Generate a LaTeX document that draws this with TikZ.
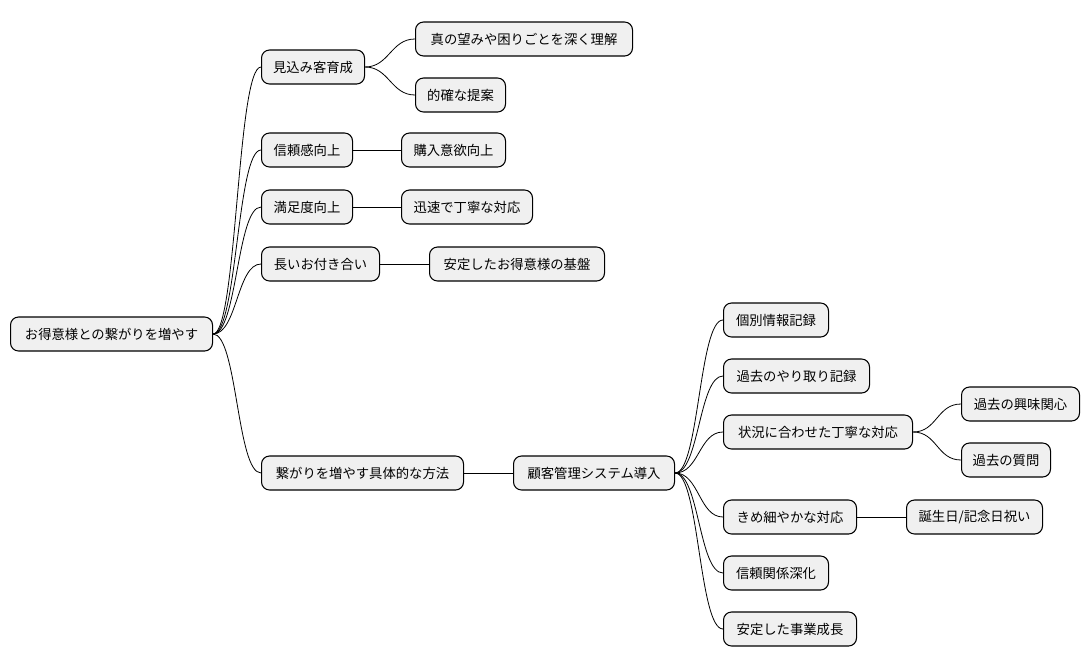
\documentclass[tikz,border=0pt]{standalone}
\usepackage{fontspec}
\setmainfont{Noto Sans CJK JP}
\begin{document}
\begin{tikzpicture}[x=0.75pt,y=-0.75pt,
  box/.style={draw=black,fill=black!6,rounded corners=6pt,line width=0.8pt,minimum height=25.5pt,inner sep=0pt,font=\fontsize{10pt}{12pt}\selectfont,anchor=west},
  link/.style={draw=black,line width=0.6pt}]
\useasboundingbox (0,0) rectangle (1090,668);
\newcommand\bx[5]{\node[box,minimum width=#4*0.75pt] (#1) at (#2,#3) {#5};}
\bx{r}{10}{334}{202}{お得意様との繋がりを増やす}
\bx{a}{261}{67}{103}{見込み客育成}
\bx{a1}{415}{39}{217}{真の望みや困りごとを深く理解}
\bx{a2}{415}{95}{90}{的確な提案}
\bx{b}{261}{150}{91}{信頼感向上}
\bx{b1}{401}{150}{104}{購入意欲向上}
\bx{c}{261}{207}{91}{満足度向上}
\bx{c1}{401}{207}{131}{迅速で丁寧な対応}
\bx{d}{261}{264}{118}{長いお付き合い}
\bx{d1}{429}{264}{175}{安定したお得意様の基盤}
\bx{e}{261}{473}{202}{繋がりを増やす具体的な方法}
\bx{f}{513}{473}{161}{顧客管理システム導入}
\bx{g1}{723}{320}{105}{個別情報記録}
\bx{g2}{723}{376}{146}{過去のやり取り記録}
\bx{g3}{723}{432}{189}{状況に合わせた丁寧な対応}
\bx{h1}{961}{404}{118}{過去の興味関心}
\bx{h2}{961}{460}{89}{過去の質問}
\bx{g4}{723}{517}{133}{きめ細やかな対応}
\bx{i1}{906}{517}{136}{誕生日/記念日祝い}
\bx{g5}{723}{573}{105}{信頼関係深化}
\bx{g6}{723}{629}{133}{安定した事業成長}
\foreach \p/\c in {r/a,r/b,r/c,r/d,r/e,a/a1,a/a2,b/b1,c/c1,d/d1,e/f,f/g1,f/g2,f/g3,f/g4,f/g5,f/g6,g3/h1,g3/h2,g4/i1}{
  \draw[link] (\p.east) .. controls ([xshift=18pt]\p.east) and ([xshift=-18pt]\c.west) .. (\c.west);
}
\end{tikzpicture}
\end{document}
